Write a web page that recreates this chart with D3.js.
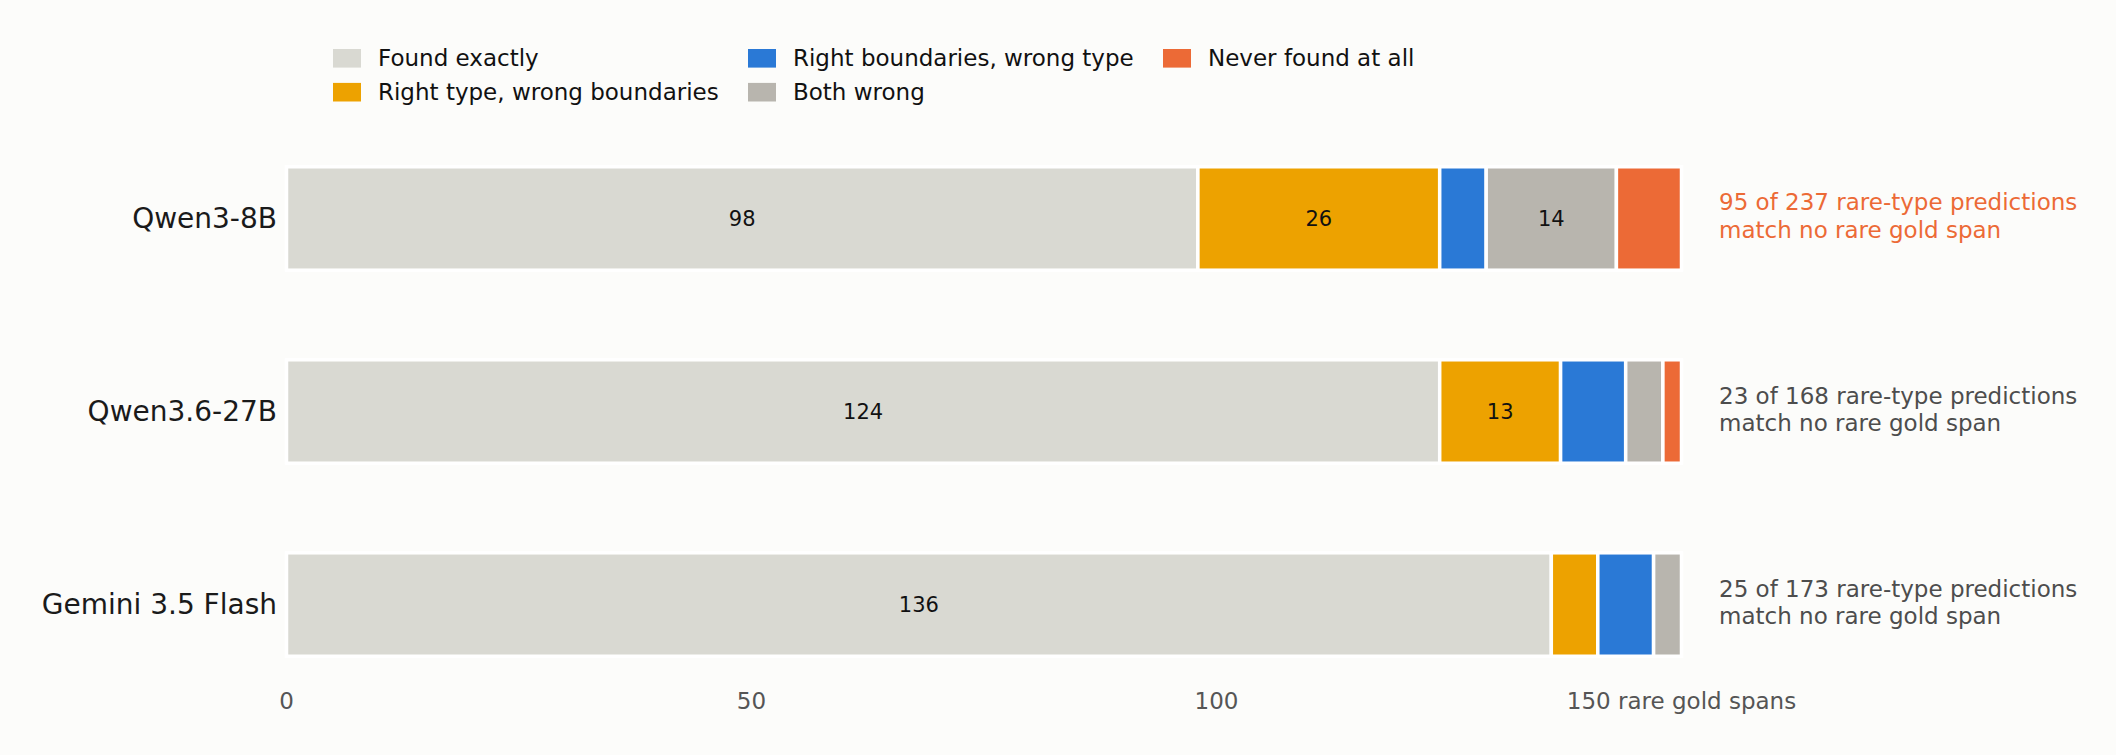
<!DOCTYPE html>
<html>
<head>
<meta charset="utf-8">
<script src="https://cdn.jsdelivr.net/npm/d3@7/dist/d3.min.js"></script>
<style>
  html, body { margin: 0; padding: 0; background: #fcfcfa; }
  svg { display: block; font-family: "DejaVu Sans", sans-serif; }
</style>
</head>
<body>
<svg id="chart" width="2116" height="755"></svg>
<script>
// models, top to bottom
const models = ["Qwen3-8B", "Qwen3.6-27B", "Gemini 3.5 Flash"];

// outcome categories (stack order left to right)
const categories = [
  "Found exactly",
  "Right type, wrong boundaries",
  "Right boundaries, wrong type",
  "Both wrong",
  "Never found at all"
];
const colors = ["#d9d9d2", "#eda200", "#2a79d6", "#b8b5ae", "#ec6a36"];

// counts per category, one entry per model
const foundExactly      = [98, 124, 136];
const rightTypeWrongBnd = [26, 13, 5];
const rightBndWrongType = [5, 7, 6];
const bothWrong         = [14, 4, 3];
const neverFound        = [7, 2, 0];

// side notes
const unmatchedPreds = [95, 23, 25];
const totalPreds     = [237, 168, 173];
const highlightNote  = [true, false, false];

const tickValues = [0, 50, 100, 150];
const tickLabels = ["0", "50", "100", "150 rare gold spans"];

const series = [foundExactly, rightTypeWrongBnd, rightBndWrongType, bothWrong, neverFound];

const svg = d3.select("#chart");

const x = d3.scaleLinear().domain([0, 150]).range([286.5, 1681.5]);
const y = d3.scaleBand().domain(models).range([166.75, 656.25]).paddingInner(0.464);

// build stacked rows
const rows = models.map((m, i) => {
  const r = { model: m };
  categories.forEach((c, k) => r[c] = series[k][i]);
  return r;
});
const stacked = d3.stack().keys(categories)(rows);

const layers = svg.append("g").selectAll("g")
  .data(stacked)
  .join("g")
    .attr("fill", (d, k) => colors[k]);

layers.selectAll("rect")
  .data(d => d.filter(s => s[1] - s[0] > 0))
  .join("rect")
    .attr("x", d => x(d[0]))
    .attr("y", d => y(d.data.model))
    .attr("width", d => x(d[1]) - x(d[0]))
    .attr("height", y.bandwidth())
    .attr("stroke", "#ffffff")
    .attr("stroke-width", 3.5);

// value labels for the bigger segments
layers.selectAll("text")
  .data(d => d.filter(s => s[1] - s[0] >= 10))
  .join("text")
    .attr("x", d => (x(d[0]) + x(d[1])) / 2)
    .attr("y", d => y(d.data.model) + y.bandwidth() / 2)
    .attr("dy", "0.35em")
    .attr("text-anchor", "middle")
    .attr("fill", "#111")
    .attr("font-size", 21)
    .text(d => d[1] - d[0]);

// model labels
svg.append("g").selectAll("text")
  .data(models)
  .join("text")
    .attr("x", 277)
    .attr("y", d => y(d) + y.bandwidth() / 2)
    .attr("dy", "0.35em")
    .attr("text-anchor", "end")
    .attr("fill", "#1a1a1a")
    .attr("font-size", 28)
    .text(d => d);

// x tick labels
svg.append("g").selectAll("text")
  .data(tickValues)
  .join("text")
    .attr("x", d => x(d))
    .attr("y", 709)
    .attr("text-anchor", "middle")
    .attr("fill", "#555")
    .attr("font-size", 23)
    .text((d, i) => tickLabels[i]);

// side notes
const notes = svg.append("g").selectAll("text")
  .data(models)
  .join("text")
    .attr("x", 1719)
    .attr("y", d => y(d) + y.bandwidth() / 2)
    .attr("font-size", 23)
    .attr("fill", (d, i) => highlightNote[i] ? "#ec6a36" : "#4d4d4d");

notes.append("tspan")
  .attr("x", 1719)
  .attr("dy", -8)
  .text((d, i) => `${unmatchedPreds[i]} of ${totalPreds[i]} rare-type predictions`);
notes.append("tspan")
  .attr("x", 1719)
  .attr("dy", 27.6)
  .text("match no rare gold span");

// legend, filled column by column
const legendCols = [333, 748, 1163];
const legendRows = [58.3, 92.2];
const legend = svg.append("g").selectAll("g")
  .data(categories)
  .join("g")
    .attr("transform", (d, k) =>
      `translate(${legendCols[Math.floor(k / 2)]},${legendRows[k % 2]})`);

legend.append("rect")
  .attr("x", 0)
  .attr("y", -9.3)
  .attr("width", 28)
  .attr("height", 18.6)
  .attr("fill", (d, k) => colors[k]);

legend.append("text")
  .attr("x", 45)
  .attr("dy", "0.35em")
  .attr("font-size", 23)
  .attr("fill", "#111")
  .text(d => d);
</script>
</body>
</html>
